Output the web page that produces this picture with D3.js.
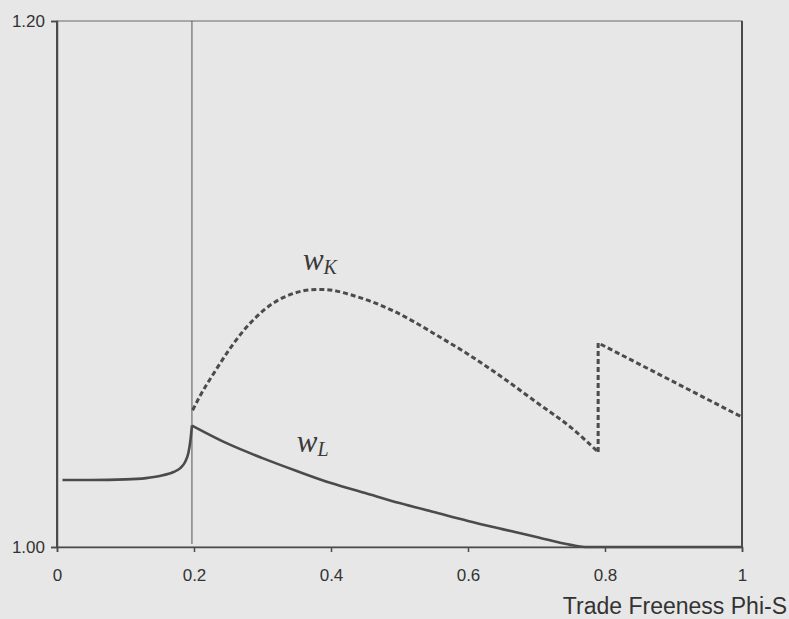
<!DOCTYPE html>
<html>
<head>
<meta charset="utf-8">
<script src="https://cdn.jsdelivr.net/npm/d3@7"></script>
<style>
  body { margin: 0; background: #e7e7e7; }
  svg { display: block; }
</style>
</head>
<body>
<div id="chart"></div>
<script>
// values
const xTicks = [0, 0.2, 0.4, 0.6, 0.8, 1];
const xTickLabels = ["0", "0.2", "0.4", "0.6", "0.8", "1"];
const yTicks = [1.0, 1.2];
const yTickLabels = ["1.00", "1.20"];
const cutoff = 0.197;

// w_L (solid)
const phiL = [0.008, 0.05, 0.1, 0.13, 0.15, 0.17, 0.18, 0.187, 0.192, 0.195, 0.197,
              0.25, 0.3, 0.35, 0.4, 0.45, 0.5, 0.55, 0.6, 0.65, 0.7, 0.75, 0.775, 0.8, 0.9, 1];
const wL   = [1.0255, 1.0255, 1.0257, 1.0262, 1.027, 1.0285, 1.030, 1.0323, 1.036, 1.041, 1.0462,
              1.0392, 1.0338, 1.0289, 1.0243, 1.0205, 1.0167, 1.0133, 1.0099, 1.0068, 1.0038, 1.0008, 1.0, 1.0, 1.0, 1.0];

// w_K (dashed), before and after the jump
const phiK1 = [0.198, 0.21, 0.23, 0.25, 0.27, 0.29, 0.31, 0.33, 0.35, 0.37, 0.39, 0.41, 0.43,
               0.46, 0.49, 0.52, 0.55, 0.6, 0.65, 0.7, 0.75, 0.79];
const wK1   = [1.052, 1.058, 1.0665, 1.0745, 1.0815, 1.0872, 1.0917, 1.0948, 1.0968, 1.0978, 1.0979, 1.0972, 1.0958,
               1.0932, 1.0899, 1.0858, 1.0812, 1.0733, 1.0645, 1.055, 1.0455, 1.0361];
const phiK2 = [0.79, 0.79, 1];
const wK2   = [1.0361, 1.0776, 1.0494];

const margin = {top: 21, right: 47, bottom: 72, left: 57},
    width = 789 - margin.left - margin.right,
    height = 619 - margin.top - margin.bottom;

const svg = d3.select("#chart")
    .append("svg")
    .attr("width", 789)
    .attr("height", 619);

const g = svg.append("g")
    .attr("transform", `translate(${margin.left},${margin.top})`);

const x = d3.scaleLinear().domain([0, 1]).range([0, width]);
const y = d3.scaleLinear().domain([1.0, 1.2]).range([height, 0]);

const ink = "#4b4b4b";

// frame
g.append("rect")
    .attr("width", width).attr("height", height)
    .attr("fill", "none").attr("stroke", "#6a6a6a").attr("stroke-width", 1);
g.append("line").attr("x1", 0).attr("x2", 0).attr("y1", 0).attr("y2", height)
    .attr("stroke", ink).attr("stroke-width", 2);
g.append("line").attr("x1", width).attr("x2", width).attr("y1", 0).attr("y2", height)
    .attr("stroke", ink).attr("stroke-width", 2);

// axes
const xAxis = g.append("g")
    .attr("transform", `translate(0,${height})`)
    .call(d3.axisBottom(x).tickValues(xTicks).tickSize(5).tickPadding(17)
        .tickFormat((d, i) => xTickLabels[i]));
const yAxis = g.append("g")
    .call(d3.axisLeft(y).tickValues(yTicks).tickSize(6).tickPadding(6)
        .tickFormat((d, i) => yTickLabels[i]));

[xAxis, yAxis].forEach(a => {
  a.select(".domain").attr("stroke", ink).attr("stroke-width", 1.5);
  a.selectAll(".tick line").attr("stroke", ink).attr("stroke-width", 1.5);
  a.selectAll(".tick text")
      .attr("fill", "#333")
      .style("font-family", "'Liberation Sans', Arial, sans-serif")
      .style("font-size", "17px");
});

// vertical marker line
g.append("line")
    .attr("x1", x(cutoff)).attr("x2", x(cutoff))
    .attr("y1", 0).attr("y2", height - 3)
    .attr("stroke", "#555").attr("stroke-width", 1);

const lineMono = d3.line()
    .x(d => x(d[0])).y(d => y(d[1]))
    .curve(d3.curveMonotoneX);
const lineStraight = d3.line()
    .x(d => x(d[0])).y(d => y(d[1]));

// w_L drawn in two pieces so the peak at the cutoff stays sharp
const ptsL = d3.zip(phiL, wL);
[ptsL.filter(d => d[0] <= cutoff), ptsL.filter(d => d[0] >= cutoff)].forEach(part => {
  g.append("path")
      .datum(part)
      .attr("d", lineMono)
      .attr("fill", "none").attr("stroke", ink).attr("stroke-width", 2.6)
      .attr("stroke-linejoin", "round");
});

g.append("path")
    .datum(d3.zip(phiK1, wK1))
    .attr("d", lineMono)
    .attr("fill", "none").attr("stroke", ink).attr("stroke-width", 3)
    .attr("stroke-dasharray", "5,3");

g.append("path")
    .datum(d3.zip(phiK2, wK2))
    .attr("d", lineStraight)
    .attr("fill", "none").attr("stroke", ink).attr("stroke-width", 3)
    .attr("stroke-dasharray", "5,3");

// curve labels
function curveLabel(px, py, sub) {
  const t = g.append("text")
      .attr("x", x(px)).attr("y", y(py))
      .attr("fill", "#3a3a3a")
      .style("font-family", "'Liberation Serif', 'DejaVu Serif', serif")
      .style("font-style", "italic");
  t.append("tspan").style("font-size", "31px").text("w");
  t.append("tspan").attr("dy", 4).style("font-size", "20px").text(sub);
}
curveLabel(0.359, 1.1053, "K");
curveLabel(0.350, 1.0361, "L");

// axis title
svg.append("text")
    .attr("x", 787).attr("y", 614)
    .attr("text-anchor", "end")
    .attr("fill", "#333")
    .style("font-family", "'Liberation Sans', Arial, sans-serif")
    .style("font-size", "23px")
    .text("Trade Freeness Phi-S");
</script>
</body>
</html>
